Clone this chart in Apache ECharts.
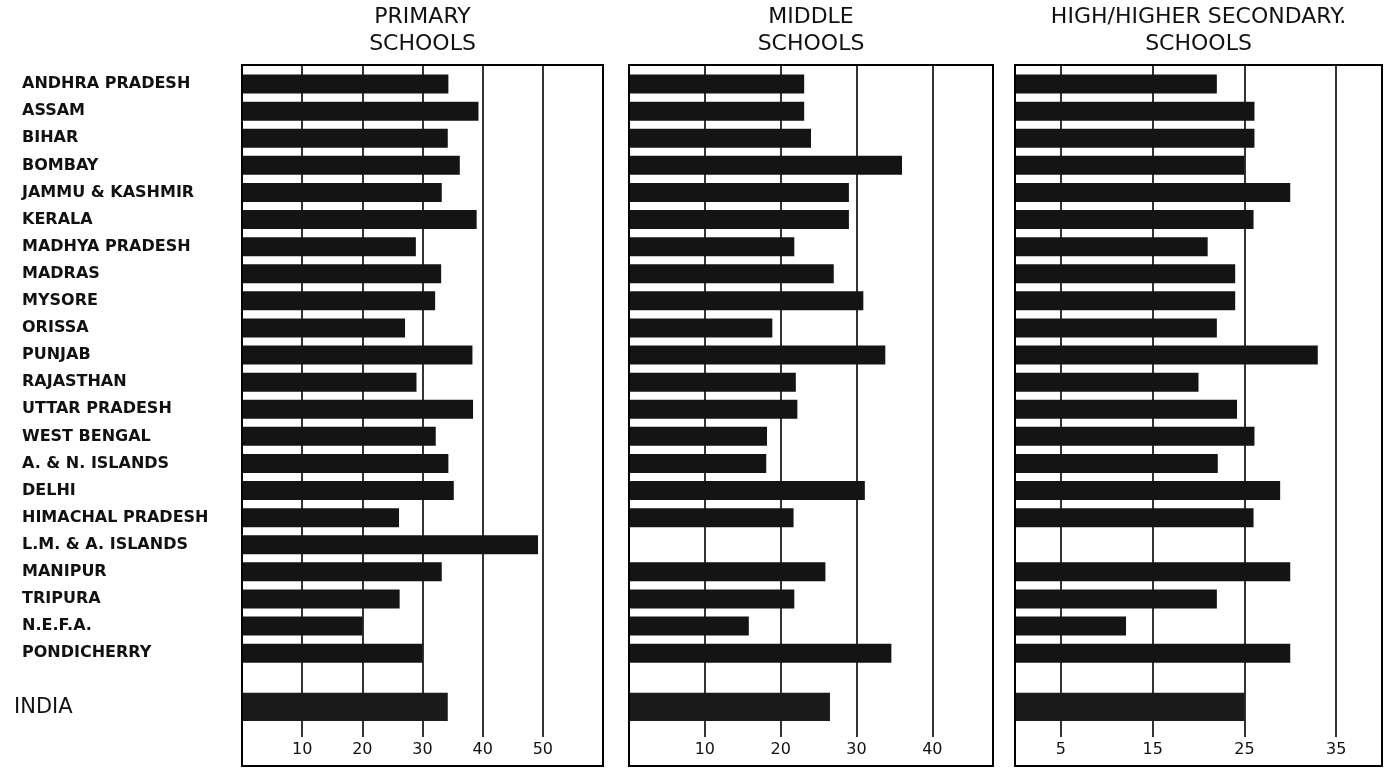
<!DOCTYPE html>
<html>
<head>
<meta charset="utf-8">
<script src="https://cdn.jsdelivr.net/npm/echarts@6/dist/echarts.min.js"></script>
<style>html,body{margin:0;padding:0;background:#fff}#c{width:1387px;height:770px}</style>
</head>
<body>
<div id="c"></div>
<script>
const categories = ['ANDHRA PRADESH','ASSAM','BIHAR','BOMBAY','JAMMU & KASHMIR','KERALA','MADHYA PRADESH','MADRAS','MYSORE','ORISSA','PUNJAB','RAJASTHAN','UTTAR PRADESH','WEST BENGAL','A. & N. ISLANDS','DELHI','HIMACHAL PRADESH','L.M. & A. ISLANDS','MANIPUR','TRIPURA','N.E.F.A.','PONDICHERRY'];
const totalLabel = 'INDIA';

const primaryValues = [34.3, 39.3, 34.2, 36.2, 33.2, 39.0, 28.9, 33.1, 32.1, 27.1, 38.3, 29.0, 38.4, 32.2, 34.3, 35.2, 26.1, 49.2, 33.2, 26.2, 20.0, 30.0];
const primaryIndia = 34.2;
const middleValues = [23.1, 23.1, 24.0, 36.0, 29.0, 29.0, 21.8, 27.0, 30.9, 18.9, 33.8, 22.0, 22.2, 18.2, 18.1, 31.1, 21.7, null, 25.9, 21.8, 15.8, 34.6];
const middleIndia = 26.5;
const highValues = [22.0, 26.1, 26.1, 25.0, 30.0, 26.0, 21.0, 24.0, 24.0, 22.0, 33.0, 20.0, 24.2, 26.1, 22.1, 28.9, 26.0, null, 30.0, 22.0, 12.1, 30.0];
const highIndia = 25.0;

const primaryTicks = [10, 20, 30, 40, 50];
const middleTicks = [10, 20, 30, 40];
const highTicks = [5, 15, 25, 35];

const primaryTitle = ['PRIMARY', 'SCHOOLS'];
const middleTitle = ['MIDDLE', 'SCHOOLS'];
const highTitle = ['HIGH/HIGHER SECONDARY.', 'SCHOOLS'];

const panels = [
  {left: 242, width: 361, max: 60, values: primaryValues, india: primaryIndia, ticks: primaryTicks, title: primaryTitle},
  {left: 629, width: 364, max: 48, values: middleValues, india: middleIndia, ticks: middleTicks, title: middleTitle},
  {left: 1015, width: 367, max: 40, values: highValues, india: highIndia, ticks: highTicks, title: highTitle}
];

const yCats = categories.concat([' ', totalLabel]);
const FONT = 'DejaVu Sans';
const INK = '#111';

const grid = [], xAxis = [], yAxis = [], series = [], graphic = [];
const LINES_TOP = 65, LINES_H = 672, BARS_TOP = 70.5, BARS_H = 650.4, FRAME_H = 701;

panels.forEach((p, i) => {
  grid.push({left: p.left, width: p.width, top: LINES_TOP, height: LINES_H});
  grid.push({left: p.left, width: p.width, top: BARS_TOP, height: BARS_H});
  xAxis.push({
    gridIndex: 2 * i, type: 'value', min: 0, max: p.max,
    axisLine: {show: false},
    axisTick: {show: false, customValues: p.ticks},
    axisLabel: {customValues: p.ticks, margin: 5, fontFamily: FONT, fontSize: 16, color: INK},
    splitLine: {show: true, lineStyle: {color: '#000', width: 1.6}}
  });
  xAxis.push({gridIndex: 2 * i + 1, type: 'value', min: 0, max: p.max, show: false});
  yAxis.push({gridIndex: 2 * i, type: 'category', data: [''], show: false});
  yAxis.push({
    gridIndex: 2 * i + 1, type: 'category', data: yCats, inverse: true,
    axisLine: {show: false}, axisTick: {show: false},
    axisLabel: i === 0 ? {
      show: true, align: 'left', margin: 220, interval: 0,
      fontFamily: FONT, fontSize: 16, fontWeight: 'bold', color: INK,
      formatter: v => v === totalLabel ? '{tot|' + v + '}' : v,
      rich: {tot: {fontFamily: FONT, fontSize: 21, fontWeight: 'normal', color: INK, padding: [0, 0, 0, -8]}}
    } : {show: false}
  });
  yAxis.push({gridIndex: 2 * i + 1, type: 'category', data: yCats, inverse: true, show: false});
  series.push({
    type: 'bar', xAxisIndex: 2 * i + 1, yAxisIndex: 3 * i + 1,
    data: p.values.concat([null, null]), barWidth: 19,
    itemStyle: {color: '#141414'}, silent: true
  });
  series.push({
    type: 'bar', xAxisIndex: 2 * i + 1, yAxisIndex: 3 * i + 2,
    data: new Array(categories.length + 1).fill(null).concat([p.india]), barWidth: 29,
    itemStyle: {color: '#1a1a1a'}, silent: true
  });
  graphic.push({
    type: 'rect', z: 100,
    shape: {x: p.left, y: LINES_TOP, width: p.width, height: FRAME_H},
    style: {fill: 'transparent', stroke: '#000', lineWidth: 2}
  });
  const cx = p.left + p.width / 2;
  graphic.push({type: 'text', z: 100, style: {text: p.title[0], x: cx, y: 17, textAlign: 'center', textVerticalAlign: 'middle', font: 'normal 22px "DejaVu Sans"', fill: INK}});
  graphic.push({type: 'text', z: 100, style: {text: p.title[1], x: cx, y: 44, textAlign: 'center', textVerticalAlign: 'middle', font: 'normal 22px "DejaVu Sans"', fill: INK}});
});

const chart = echarts.init(document.getElementById('c'));
chart.setOption({animation: false, backgroundColor: '#fff', grid, xAxis, yAxis, series, graphic});
</script>
</body>
</html>
